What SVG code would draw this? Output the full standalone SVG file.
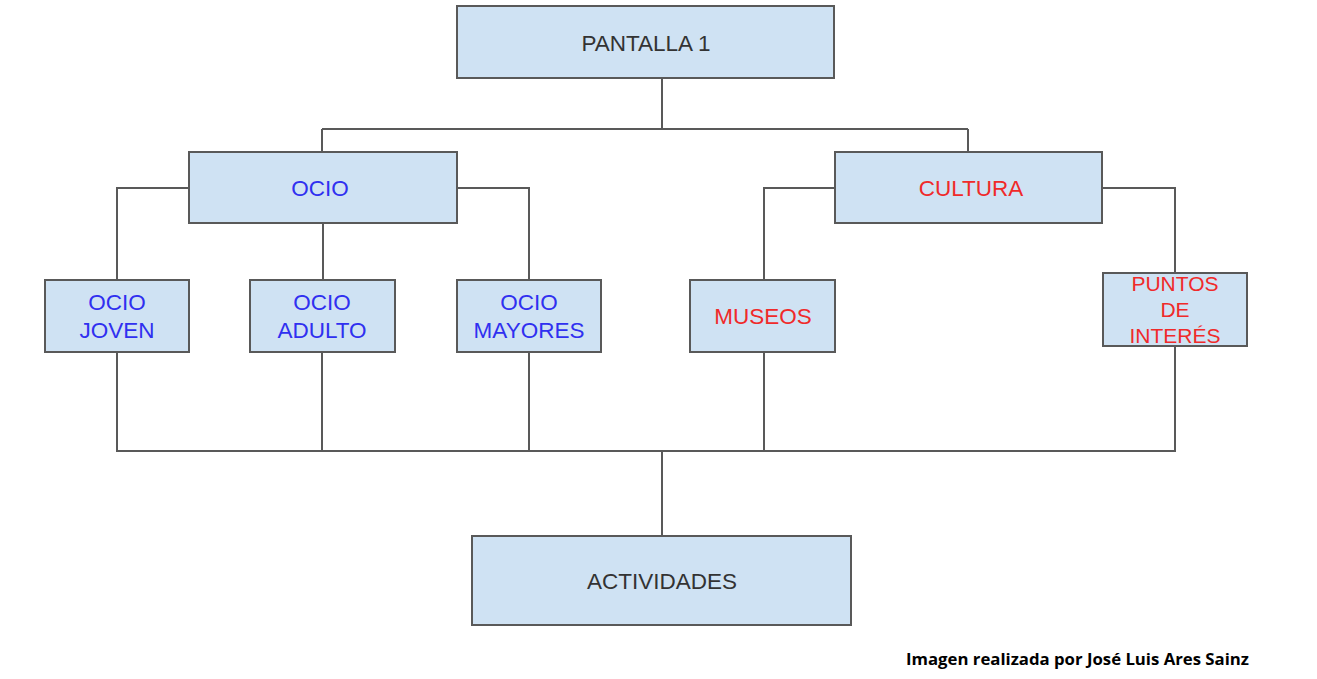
<svg xmlns="http://www.w3.org/2000/svg" width="1317" height="679" viewBox="0 0 1317 679">
<style>
.box{fill:#cfe2f3;stroke:#595959;stroke-width:2}
.t{font-family:"Liberation Sans",Arial,sans-serif;font-size:22.5px;text-anchor:middle}
.s{font-size:21px}
.k{fill:#333333}
.b{fill:#3030f0}
.r{fill:#f02a2a}
.c{fill:none;stroke:#595959;stroke-width:2}
.cap{font-family:"Open Sans","DejaVu Sans",sans-serif;font-weight:bold;font-size:16px;fill:#000}
</style>
<rect width="1317" height="679" fill="#ffffff"/>
<g id="connectors">
<path class="c" d="M662 78V129M322 129H968M322 129V152M968 129V152"/>
<path class="c" d="M189 188H117V280M457 188H529V280M323 223V280"/>
<path class="c" d="M835 188H764V280M1102 188H1175V273"/>
<path class="c" d="M117 352V451M322 352V451M529 352V451M764 352V451M1175 346V451M116 451H1176M662 451V536"/>
</g>
<g id="pantalla1"><rect class="box" x="457" y="6" width="377" height="72"/><text class="t k" x="646" y="51">PANTALLA 1</text></g>
<g id="ocio"><rect class="box" x="189" y="152" width="268" height="71"/><text class="t b" x="320" y="196">OCIO</text></g>
<g id="cultura"><rect class="box" x="835" y="152" width="267" height="71"/><text class="t r" x="971" y="196">CULTURA</text></g>
<g id="ocio-joven"><rect class="box" x="45" y="280" width="144" height="72"/><text class="t b" x="117" y="310">OCIO</text><text class="t b" x="117" y="338">JOVEN</text></g>
<g id="ocio-adulto"><rect class="box" x="250" y="280" width="145" height="72"/><text class="t b" x="322" y="310">OCIO</text><text class="t b" x="322" y="338">ADULTO</text></g>
<g id="ocio-mayores"><rect class="box" x="457" y="280" width="144" height="72"/><text class="t b" x="529" y="310">OCIO</text><text class="t b" x="529" y="338">MAYORES</text></g>
<g id="museos"><rect class="box" x="690" y="280" width="145" height="72"/><text class="t r" x="763" y="324">MUSEOS</text></g>
<g id="puntos"><rect class="box" x="1103" y="273" width="144" height="73"/><text class="t s r" x="1175" y="291">PUNTOS</text><text class="t s r" x="1175" y="317">DE</text><text class="t s r" x="1175" y="343">INTERÉS</text></g>
<g id="actividades"><rect class="box" x="472" y="536" width="379" height="89"/><text class="t k" x="662" y="589">ACTIVIDADES</text></g>
<text class="cap" x="906" y="665" textLength="343" lengthAdjust="spacingAndGlyphs">Imagen realizada por José Luis Ares Sainz</text>
</svg>
